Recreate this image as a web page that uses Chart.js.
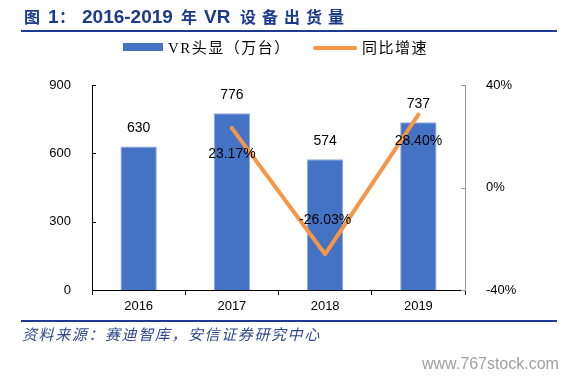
<!DOCTYPE html>
<html><head><meta charset="utf-8">
<script src="https://cdn.jsdelivr.net/npm/chart.js@4"></script>
<style>
html,body{margin:0;padding:0;background:#fff;}
#wrap{position:relative;width:565px;height:377px;overflow:hidden;}
canvas{position:absolute;left:0;top:0;}
.t{position:absolute;white-space:nowrap;}
.ti{position:absolute;top:5px;white-space:nowrap;font:bold 19px "Liberation Sans","Noto Sans CJK SC",sans-serif;color:#1B3A8C;line-height:24px;}
.cj{font-size:16px;top:6px;}
.rule{position:absolute;left:21px;width:536px;height:2px;background:#1F3A93;}
#src{left:22px;top:325px;font:italic 15px "Liberation Serif","Noto Sans CJK SC",serif;color:#2F4A8A;letter-spacing:1.6px;line-height:20px;}
#wm{left:422px;top:355px;font:16px "Liberation Sans",sans-serif;color:#a0a0a0;line-height:18px;}
.lg{position:absolute;}
.lgt{position:absolute;top:38px;font:15px "Liberation Serif","Noto Sans CJK SC",serif;color:#000;line-height:20px;white-space:nowrap;letter-spacing:1.5px;}
</style></head>
<body><div id="wrap">
<canvas id="c" width="565" height="377"></canvas>
<div class="ti cj" style="left:24px;">图</div>
<div class="ti" style="left:48px;">1</div>
<div class="ti cj" style="left:59px;">：</div>
<div class="ti" style="left:82px;">2016-2019</div>
<div class="ti cj" style="left:181px;">年</div>
<div class="ti" style="left:204px;">VR</div>
<div class="ti cj" style="left:240px;letter-spacing:6px;">设备出货量</div>
<div class="rule" style="top:30px;"></div>
<div class="lg" style="left:123px;top:43px;width:40px;height:8px;background:#4472C4;"></div>
<div class="lgt" style="left:168px;">VR头显（万台）</div>
<div class="lg" style="left:313px;top:46px;width:44px;height:4px;border-radius:2px;background:#F79646;"></div>
<div class="lgt" style="left:362px;">同比增速</div>
<div class="rule" style="top:320px;"></div>
<div class="t" id="src">资料来源：赛迪智库，安信证券研究中心</div>
<div class="t" id="wm">www.767stock.com</div>
</div>
<script>
const categories = ['2016', '2017', '2018', '2019'];
const shipments = [630, 776, 574, 737];
const growth = [null, 23.17, -26.03, 28.40];
const leftTicks = [0, 300, 600, 900];
const rightTicks = [-40, 0, 40];

const labelPlugin = {
  id: 'labels',
  afterDatasetsDraw(chart) {
    const ctx = chart.ctx;
    ctx.save();
    ctx.font = '14px "Liberation Sans", Arial, sans-serif';
    ctx.fillStyle = '#000';
    ctx.textAlign = 'center';
    ctx.textBaseline = 'middle';
    chart.getDatasetMeta(0).data.forEach((el, i) => {
      ctx.fillText(String(shipments[i]), el.x, el.y - 18);
    });
    chart.getDatasetMeta(1).data.forEach((el, i) => {
      const v = growth[i];
      if (v === null) return;
      const dy = v < 0 ? -34 : 26;
      ctx.fillText(v.toFixed(2) + '%', el.x, el.y + dy);
    });
    ctx.restore();
  }
};

const tickPlugin = {
  id: 'innerTicks',
  afterDraw(chart) {
    const ctx = chart.ctx, a = chart.chartArea;
    const y = chart.scales.y, y1 = chart.scales.y1;
    ctx.save();
    ctx.lineWidth = 1;
    ctx.strokeStyle = '#000';
    y.ticks.forEach(t => {
      const p = Math.round(y.getPixelForValue(t.value)) + 0.5;
      ctx.beginPath(); ctx.moveTo(a.left, p); ctx.lineTo(a.left + 4, p); ctx.stroke();
    });
    ctx.strokeStyle = '#999';
    y1.ticks.forEach(t => {
      const p = Math.round(y1.getPixelForValue(t.value)) + 0.5;
      ctx.beginPath(); ctx.moveTo(a.right - 4, p); ctx.lineTo(a.right, p); ctx.stroke();
    });
    ctx.restore();
  }
};

const tickFont = { size: 13, family: '"Liberation Sans", Arial, sans-serif' };

new Chart(document.getElementById('c'), {
  data: {
    labels: categories,
    datasets: [
      {
        type: 'bar', label: 'VR头显（万台）', data: shipments, yAxisID: 'y',
        backgroundColor: '#4472C4', borderColor: '#8EA9DB', borderWidth: 1,
        barPercentage: 0.39, categoryPercentage: 1, order: 2
      },
      {
        type: 'line', label: '同比增速', data: growth, yAxisID: 'y1',
        borderColor: '#F79646', borderWidth: 4, pointRadius: 0, tension: 0,
        borderCapStyle: 'round', borderJoinStyle: 'round', spanGaps: false, order: 1
      }
    ]
  },
  options: {
    responsive: false, animation: false,
    layout: { padding: { top: 85, left: 0, right: 0, bottom: 0 } },
    plugins: { legend: { display: false }, tooltip: { enabled: false } },
    scales: {
      x: {
        grid: { display: true, drawOnChartArea: false, offset: true, tickLength: 5, color: '#000' },
        border: { display: true, color: '#000', width: 1 },
        ticks: { color: '#000', font: tickFont, padding: 4 },
        afterFit(s) { s.height = 87; }
      },
      y: {
        position: 'left', min: 0, max: 900,
        afterBuildTicks(s) { s.ticks = leftTicks.map(v => ({ value: v })); },
        grid: { display: false },
        border: { display: true, color: '#000', width: 1 },
        ticks: { color: '#000', font: tickFont, padding: 13 },
        afterFit(s) { s.width = 92; }
      },
      y1: {
        position: 'right', min: -40, max: 40,
        afterBuildTicks(s) { s.ticks = rightTicks.map(v => ({ value: v })); },
        grid: { display: false },
        border: { display: true, color: '#999', width: 1 },
        ticks: { color: '#000', font: tickFont, padding: 13, callback: v => v + '%' },
        afterFit(s) { s.width = 100; }
      }
    }
  },
  plugins: [labelPlugin, tickPlugin]
});
</script>
</body></html>
